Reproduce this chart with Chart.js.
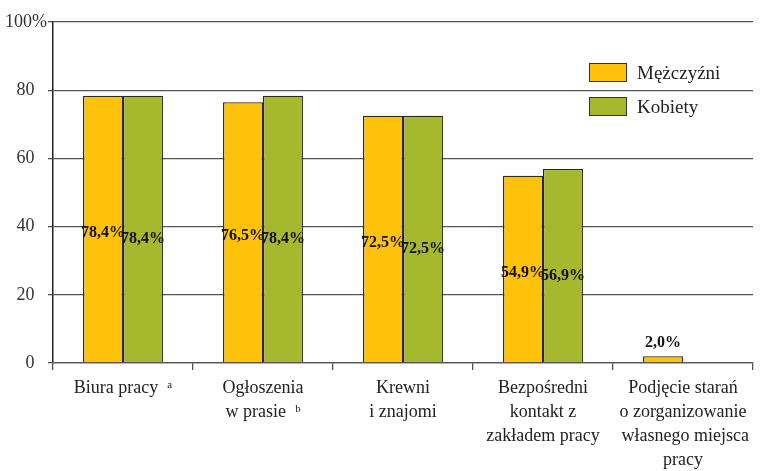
<!DOCTYPE html>
<html>
<head>
<meta charset="utf-8">
<script src="https://cdn.jsdelivr.net/npm/chart.js@4"></script>
<style>
  html,body{margin:0;padding:0;background:#fff;}
  #wrap{position:relative;width:760px;height:471px;}
  #legend{position:absolute;left:589px;top:63px;font-family:"Liberation Serif",serif;font-size:19px;color:#222;}
  .lg{display:flex;align-items:center;height:19px;margin-bottom:15px;}
  .lg i{display:inline-block;width:36px;height:17px;border:1px solid #333;margin-right:10px;}
</style>
</head>
<body>
<div id="wrap">
  <canvas id="c" width="760" height="471"></canvas>
  <div id="legend"></div>
</div>
<script>
/* ---- data ---- */
const categories = [
  ['Biura pracy  \u1d43'],
  ['Ogłoszenia', 'w prasie  \u1d47'],
  ['Krewni', 'i znajomi'],
  ['Bezpośredni', 'kontakt z', 'zakładem pracy'],
  ['Podjęcie starań', 'o zorganizowanie', ' własnego miejsca', 'pracy']
];
const men = [78.4, 76.5, 72.5, 54.9, 2.0];
const women = [78.4, 78.4, 72.5, 56.9, null];
const seriesNames = ['Mężczyźni', 'Kobiety'];
const seriesColors = ['#FFC20A', '#A5B82E'];
const yTicks = [0, 20, 40, 60, 80, 100];

const fmt = v => v.toFixed(1).replace('.', ',') + '%';

// value labels on bars (inside, or above if the bar is too short)
const barLabels = {
  id:'barLabels',
  afterDatasetsDraw(chart){
    const ctx = chart.ctx;
    ctx.save();
    ctx.font = 'bold 16px "Liberation Serif", serif';
    ctx.fillStyle = '#111';
    ctx.textAlign = 'center';
    ctx.textBaseline = 'middle';
    chart.data.datasets.forEach((ds, di)=>{
      chart.getDatasetMeta(di).data.forEach((bar, i)=>{
        const v = ds.data[i];
        if(v==null) return;
        const h = bar.base - bar.y;
        if(h < 25) ctx.fillText(fmt(v), bar.x, bar.y - 13);
        else ctx.fillText(fmt(v), bar.x, (bar.y + bar.base)/2 + (di ? 10 : 4));
      });
    });
    ctx.restore();
  }
};

new Chart(document.getElementById('c'), {
  type:'bar',
  data:{ labels:categories, datasets:[
    {label:seriesNames[0], data:men, backgroundColor:seriesColors[0], borderColor:'#2a2a1a', borderWidth:1.3},
    {label:seriesNames[1], data:women, backgroundColor:seriesColors[1], borderColor:'#2a2a1a', borderWidth:1.3}
  ]},
  options:{
    responsive:false, animation:false,
    layout:{padding:{top:22, right:7, left:0, bottom:0}},
    categoryPercentage:0.571, barPercentage:1,
    plugins:{legend:{display:false}, tooltip:{enabled:false}},
    scales:{
      y:{
        min:0, max:100,
        afterBuildTicks: s => { s.ticks = yTicks.map(v=>({value:v})); },
        afterFit: s => { s.width = 53; },
        border:{color:'#222', width:1.5},
        grid:{color:'#555', lineWidth:1.3, tickLength:5},
        ticks:{
          padding:1, color:'#333',
          font:{family:'"Liberation Serif", serif', size:18},
          callback: v => v===100 ? '100%' : v + '\u2002\u2009'
        }
      },
      x:{
        afterFit: s => { s.height = 471 - 22 - 341; },
        border:{color:'#555', width:1.3},
        grid:{display:true, drawOnChartArea:false, color:'#555', lineWidth:1.3, tickLength:7, offset:true},
        ticks:{
          padding:6, color:'#222', maxRotation:0, autoSkip:false,
          font:{family:'"Liberation Serif", serif', size:18, lineHeight:1.33}
        }
      }
    }
  },
  plugins:[barLabels]
});

document.getElementById('legend').innerHTML = seriesNames.map((n,i)=>
  `<div class="lg"><i style="background:${seriesColors[i]}"></i>${n}</div>`).join('');
</script>
</body>
</html>
